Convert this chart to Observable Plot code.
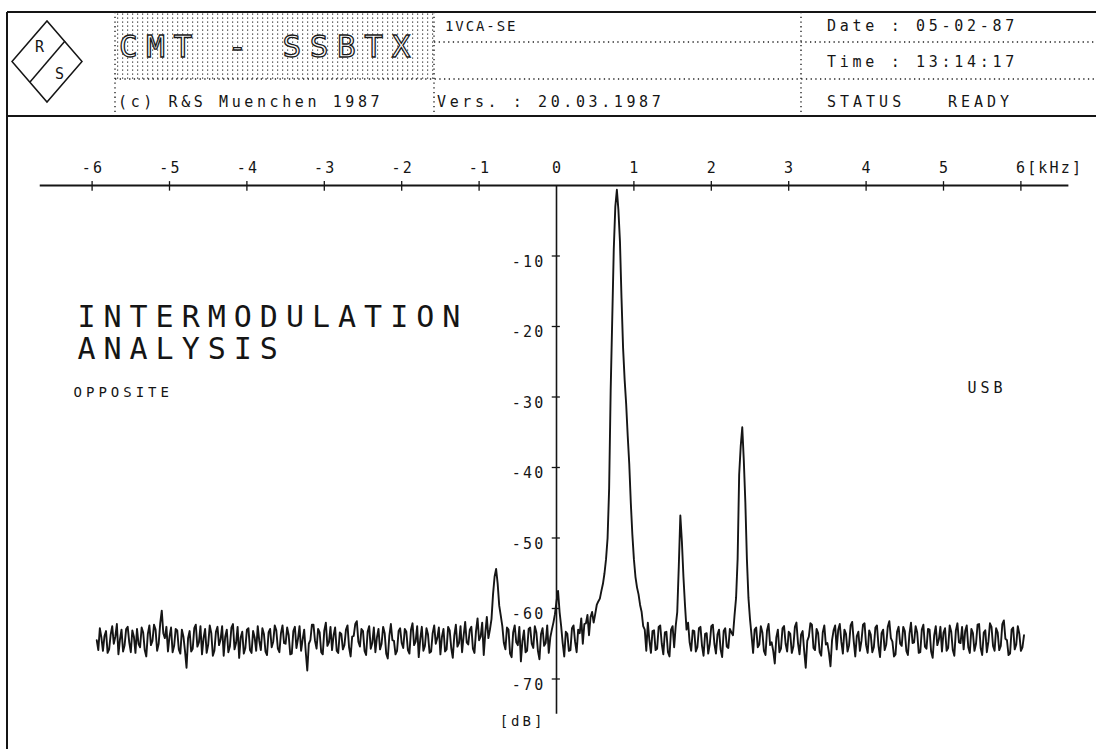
<!DOCTYPE html>
<html>
<head>
<meta charset="utf-8">
<script src="https://cdn.jsdelivr.net/npm/d3@7"></script>
<script src="https://cdn.jsdelivr.net/npm/@observablehq/plot@0.6"></script>
<style>
  html, body { margin: 0; padding: 0; background: #fff; }
  #wrap { position: relative; width: 1096px; height: 749px; overflow: hidden; background: #fff; font-family: "DejaVu Sans Mono", monospace; }
  #header { position: absolute; left: 0; top: 0; }
  #header text { white-space: pre; }
  #chart { position: absolute; left: 0; top: 118px; }
  #border { position: absolute; left: 6px; top: 12px; width: 2px; height: 737px; background: #151515; z-index: 3; }
</style>
</head>
<body>
<div id="wrap">
  <svg id="header" width="1096" height="118" viewBox="0 0 1096 118" font-family="DejaVu Sans Mono, monospace" fill="#151515">
    <defs>
      <pattern id="stip" width="5" height="4" patternUnits="userSpaceOnUse">
        <rect x="2" y="1.5" width="1.2" height="1.2" fill="#333"/>
      </pattern>
    </defs>
    <rect x="115" y="13" width="319" height="66" fill="url(#stip)"/>
    <line x1="7" y1="12" x2="1096" y2="12" stroke="#151515" stroke-width="2"/>
    <line x1="7" y1="116" x2="1096" y2="116" stroke="#151515" stroke-width="2"/>
    <g stroke="#222" stroke-width="1.4" stroke-dasharray="1.3 3.4" fill="none">
      <line x1="115" y1="12" x2="115" y2="116"/>
      <line x1="434" y1="12" x2="434" y2="116"/>
      <line x1="801" y1="12" x2="801" y2="116"/>
      <line x1="434" y1="42" x2="1096" y2="42"/>
      <line x1="115" y1="79" x2="1096" y2="79"/>
    </g>
    <g stroke="#151515" stroke-width="1.5" fill="none">
      <polygon points="12,61.5 47,21 82,61.5 47,102"/>
      <line x1="65" y1="41" x2="30" y2="82"/>
    </g>
    <text x="35" y="52" font-size="15">R</text>
    <text x="55" y="79" font-size="15">S</text>
    <text x="119" y="57" font-size="31" letter-spacing="8.6" fill="#fff" stroke="#1a1a1a" stroke-width="1.3">CMT - SSBTX</text>
    <text x="445" y="31" font-size="14" letter-spacing="1.9">1VCA-SE</text>
    <text x="827" y="31" font-size="15" letter-spacing="3.7">Date : 05-02-87</text>
    <text x="827" y="67" font-size="15" letter-spacing="3.7">Time : 13:14:17</text>
    <text x="118" y="107" font-size="15" letter-spacing="3.6">(c) R&amp;S Muenchen 1987</text>
    <text x="437" y="107" font-size="15" letter-spacing="3.6">Vers. : 20.03.1987</text>
    <text x="827" y="107" font-size="15" letter-spacing="4">STATUS</text>
    <text x="948" y="107" font-size="15" letter-spacing="4">READY</text>
  </svg>
  <div id="chart"></div>
  <div id="border"></div>
</div>
<script>
const sweepStartKHz = -5.94;
const sweepStepKHz = 0.02;
const levelsDb = [
  -64.5, -65.9, -62.8, -64.1, -66.0, -63.9, -63.2, -66.3, -65.8, -63.7, -62.5, -65.0, -64.0, -62.2, -66.5, -64.4, -63.0, -66.1, -65.2, -62.9,
  -62.6, -64.8, -66.2, -63.1, -64.0, -66.3, -62.9, -65.0, -65.5, -62.7, -63.4, -65.9, -66.8, -63.6, -62.4, -65.2, -64.6, -62.3, -63.0, -66.0,
  -65.0, -62.1, -60.3, -63.5, -64.2, -62.6, -66.1, -64.0, -62.7, -66.2, -65.3, -62.9, -63.1, -65.8, -66.4, -63.0, -64.0, -66.0, -68.4, -64.2,
  -63.2, -66.1, -65.7, -62.8, -62.3, -65.4, -64.8, -62.5, -66.5, -64.2, -62.9, -66.3, -65.1, -62.4, -63.5, -66.7, -66.0, -63.3, -62.6, -65.2,
  -64.4, -62.5, -66.7, -64.0, -63.0, -66.2, -65.4, -62.7, -62.2, -65.8, -64.9, -62.6, -67.0, -64.1, -63.3, -66.4, -65.6, -63.0, -62.8, -65.9,
  -66.3, -63.2, -64.1, -66.0, -62.5, -64.6, -65.9, -62.8, -63.6, -66.1, -66.6, -63.4, -62.9, -65.5, -64.7, -62.4, -63.1, -65.7, -66.2, -63.5,
  -62.4, -64.9, -65.0, -62.7, -63.8, -66.5, -66.4, -63.2, -62.6, -65.6, -64.3, -62.5, -66.0, -64.4, -63.0, -66.1, -68.8, -65.0, -64.5, -62.3,
  -62.3, -64.6, -65.7, -62.9, -63.4, -66.2, -66.5, -63.1, -62.0, -65.3, -64.8, -62.6, -65.9, -63.8, -62.7, -66.0, -66.3, -63.4, -63.6, -65.8,
  -65.2, -63.0, -62.4, -65.5, -66.8, -64.0, -63.9, -62.2, -61.8, -64.7, -65.4, -62.9, -63.2, -66.0, -66.6, -63.3, -62.5, -65.7, -64.9, -62.7,
  -66.2, -64.1, -62.9, -65.8, -65.0, -62.6, -63.5, -66.4, -67.1, -63.9, -62.2, -64.5, -64.6, -66.5, -66.0, -63.2, -62.8, -64.9, -65.6, -62.9,
  -63.3, -65.9, -66.4, -63.0, -62.1, -65.2, -64.7, -62.5, -66.9, -64.3, -62.6, -66.0, -65.3, -62.8, -63.7, -66.3, -66.1, -63.5, -62.4, -65.0,
  -64.2, -62.7, -66.5, -64.0, -62.9, -66.1, -65.8, -62.6, -63.1, -65.6, -67.0, -63.8, -62.3, -65.4, -64.9, -62.5, -66.2, -63.9, -61.9, -64.8,
  -65.1, -63.0, -62.6, -65.7, -66.3, -63.2, -61.4, -64.5, -64.0, -62.0, -66.6, -63.5, -61.2, -64.2, -63.0, -61.5, -58.0, -55.5, -54.4, -56.5,
  -59.6, -61.0, -62.5, -64.9, -65.8, -62.7, -63.0, -66.4, -66.9, -63.4, -62.4, -64.8, -65.2, -62.6, -67.5, -64.6, -63.1, -66.2, -66.0, -62.9,
  -62.7, -65.0, -65.6, -62.5, -63.4, -66.0, -67.2, -63.6, -62.8, -65.3, -64.9, -62.4, -66.3, -64.1, -63.0, -62.0, -60.8, -59.0, -57.5, -60.5,
  -62.5, -64.9, -66.8, -63.3, -63.6, -66.0, -65.9, -62.8, -62.4, -64.7, -66.2, -63.0, -63.5, -61.4, -65.0, -62.2, -62.1, -60.9, -63.8, -61.2,
  -60.5, -62.0, -60.8, -59.5, -59.0, -58.6, -57.5, -56.5, -55.0, -53.0, -50.0, -43.0, -29.0, -19.0, -9.0, -3.0, -0.6, -3.5, -8.0, -16.0,
  -23.0, -27.5, -31.0, -35.5, -39.5, -45.0, -49.5, -53.0, -55.5, -57.0, -58.0, -59.5, -60.5, -62.5, -63.0, -66.0, -62.0, -64.5, -66.3, -63.2,
  -63.1, -65.9, -65.7, -62.6, -62.4, -65.0, -66.5, -63.4, -63.3, -66.2, -66.8, -63.0, -62.5, -65.5, -62.5, -60.5, -54.0, -46.8, -50.5, -55.5,
  -59.5, -63.0, -62.0, -64.8, -66.0, -63.1, -63.2, -66.1, -65.5, -62.8, -62.6, -65.3, -66.7, -63.6, -63.5, -66.4, -65.1, -62.5, -62.3, -65.0,
  -66.4, -63.7, -63.0, -65.8, -66.9, -63.2, -62.8, -65.4, -65.6, -62.9, -63.4, -63.8, -61.0, -58.5, -53.0, -41.0, -37.0, -34.3, -39.0, -45.0,
  -53.0, -58.5, -61.5, -63.8, -66.3, -63.0, -62.7, -65.5, -65.1, -62.5, -63.4, -66.0, -66.6, -63.1, -62.2, -65.2, -64.8, -66.0, -67.8, -64.1,
  -63.0, -66.2, -65.7, -62.8, -62.5, -65.0, -66.1, -63.3, -63.6, -66.3, -65.4, -62.6, -62.0, -64.9, -66.5, -63.7, -63.2, -66.0, -68.4, -64.6,
  -64.0, -62.1, -62.3, -65.6, -65.9, -62.9, -63.5, -66.2, -66.7, -63.4, -62.4, -65.1, -64.9, -66.3, -68.2, -64.5, -63.1, -62.4, -65.8, -63.0,
  -62.2, -64.7, -66.4, -63.0, -63.6, -66.1, -65.2, -62.4, -61.9, -64.6, -66.8, -63.9, -63.3, -66.0, -64.6, -62.3, -62.1, -65.2, -66.3, -63.1,
  -63.7, -66.2, -65.5, -62.7, -62.4, -65.3, -66.9, -63.5, -63.0, -65.9, -65.1, -62.6, -61.8, -64.2, -64.7, -66.8, -66.5, -63.3, -62.6, -65.0,
  -65.3, -62.6, -63.2, -66.0, -66.6, -63.6, -62.0, -64.9, -64.8, -62.5, -63.4, -66.3, -66.2, -63.0, -62.3, -65.4, -65.7, -62.9, -63.0, -66.1,
  -67.0, -63.8, -62.5, -65.2, -64.4, -62.6, -66.1, -63.4, -62.8, -66.0, -65.6, -62.4, -63.3, -65.9, -66.7, -63.1, -62.1, -64.8, -64.9, -62.6,
  -65.8, -63.2, -62.4, -65.5, -66.3, -62.9, -63.5, -66.0, -65.0, -62.3, -62.2, -65.6, -66.6, -63.4, -63.1, -66.2, -64.7, -62.1, -62.6, -65.3,
  -66.0, -62.8, -63.4, -65.9, -65.3, -62.2, -61.7, -64.3, -64.5, -66.6, -66.4, -63.0, -62.7, -65.8, -65.1, -62.5, -63.6, -66.0, -65.5, -63.8
];
const xTicks = [-6, -5, -4, -3, -2, -1, 0, 1, 2, 3, 4, 5, 6];
const xTickLabels = ["-6", "-5", "-4", "-3", "-2", "-1", "0", "1", "2", "3", "4", "5", "6[kHz]"];
const yTicks = [-10, -20, -30, -40, -50, -60, -70];
const yTickLabels = ["-10", "-20", "-30", "-40", "-50", "-60", "-70"];
const freqAxisSpan = [-6.67, 6.62];
const levelAxisSpan = [0, -75];
const titleLines = ["INTERMODULATION", "ANALYSIS"];
const sideNotes = ["OPPOSITE", "USB"];

const trace = levelsDb.map((db, i) => ({f: sweepStartKHz + i * sweepStepKHz, db}));
const xLab = xTicks.map((t, i) => ({t, label: xTickLabels[i]}));
const yLab = yTicks.map((t, i) => ({t, label: yTickLabels[i]}));
const ink = "#151515";

const chart = Plot.plot({
  width: 1096,
  height: 631,
  marginLeft: 91.6,
  marginRight: 75.6,
  marginTop: 67,
  marginBottom: 35.25,
  x: {domain: [-6, 6], axis: null},
  y: {domain: [-75, 0], axis: null},
  style: {fontFamily: "DejaVu Sans Mono, monospace", fontSize: "15px", background: "transparent", overflow: "visible"},
  marks: [
    Plot.ruleY([0], {x1: freqAxisSpan[0], x2: freqAxisSpan[1], stroke: ink, strokeWidth: 1.8}),
    Plot.ruleX([0], {y1: levelAxisSpan[0], y2: levelAxisSpan[1], stroke: ink, strokeWidth: 1.6}),
    Plot.ruleX(xTicks.filter(t => t !== 0), {x: d => d, y1: 0.55, y2: -0.8, stroke: ink, strokeWidth: 1.3}),
    Plot.ruleY(yTicks, {y: d => d, x1: -0.055, x2: 0.05, stroke: ink, strokeWidth: 1.3}),
    Plot.text(xLab.filter(d => d.t !== 6), {x: "t", y: 0, text: "label", dy: -17, dx: 1, fill: ink, fontSize: 15}),
    Plot.text(xLab.filter(d => d.t === 6), {x: "t", y: 0, text: "label", dy: -17, dx: -5, textAnchor: "start", fill: ink, fontSize: 15}),
    Plot.text(yLab, {x: 0, y: "t", text: "label", dx: -11, dy: 6, textAnchor: "end", fill: ink, fontSize: 15}),
    Plot.text(["[dB]"], {x: 0, y: -75, text: d => d, dx: -34, dy: 7, fill: ink, fontSize: 14}),
    Plot.line(trace, {x: "f", y: "db", stroke: ink, strokeWidth: 1.9, strokeLinejoin: "round"}),
    Plot.text([titleLines[0]], {x: -6.19, y: -18.7, text: d => d, textAnchor: "start", fill: ink, fontSize: 30}),
    Plot.text([titleLines[1]], {x: -6.19, y: -23.2, text: d => d, textAnchor: "start", fill: ink, fontSize: 30}),
    Plot.text([sideNotes[0]], {x: -6.24, y: -29.4, text: d => d, textAnchor: "start", fill: ink, fontSize: 14}),
    Plot.text([sideNotes[1]], {x: 5.31, y: -28.8, text: d => d, textAnchor: "start", fill: ink, fontSize: 15})
  ]
});
document.getElementById("chart").appendChild(chart);
// plotter-like letter spacing
const spacing = new Map([[titleLines[0], 8], [titleLines[1], 8], [sideNotes[0], 4], [sideNotes[1], 4]]);
d3.select(chart).selectAll("text").each(function () {
  const t = this.textContent;
  const isAxisLabel = xTickLabels.includes(t) || yTickLabels.includes(t);
  d3.select(this).attr("letter-spacing", spacing.has(t) ? spacing.get(t) + "px" : (isAxisLabel ? "2.2px" : "3px"));
});
</script>
</body>
</html>
